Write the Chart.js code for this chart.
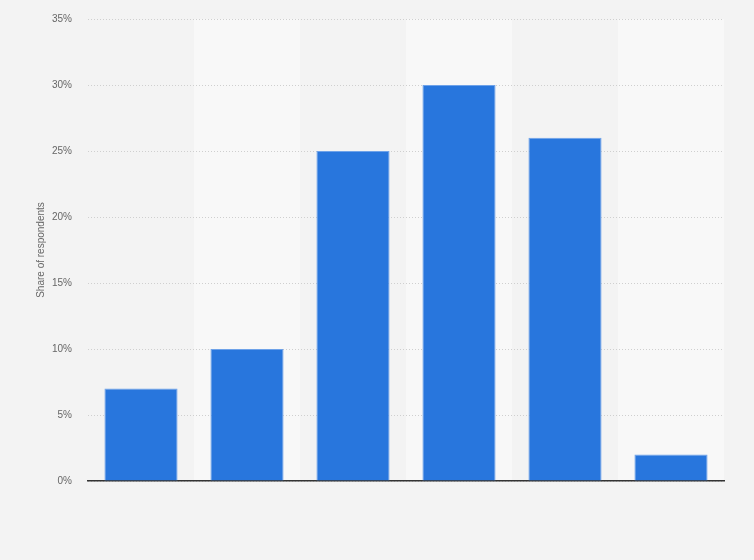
<!DOCTYPE html>
<html>
<head>
<meta charset="utf-8">
<script src="https://cdn.jsdelivr.net/npm/chart.js@4"></script>
<style>
  html, body { margin: 0; padding: 0; background: #f3f3f3; }
  #wrap { width: 754px; height: 560px; }
</style>
</head>
<body>
<div id="wrap"><canvas id="chart"></canvas></div>
<script>
// Chart data
var categories = ["A", "B", "C", "D", "E", "F"];
var shares = [7, 10, 25, 30, 26, 2];
var yTicks = [0, 5, 10, 15, 20, 25, 30, 35];

// Light bands behind every second column, drawn before the grid
var bandPlugin = {
    id: "bands",
    beforeDraw: function (chart) {
        var ctx = chart.ctx;
        var x = chart.scales.x;
        var area = chart.chartArea;
        var w = (area.right - area.left) / categories.length;
        ctx.save();
        ctx.fillStyle = "#f8f8f8";
        for (var i = 1; i < categories.length; i += 2) {
            var c = x.getPixelForValue(i);
            ctx.fillRect(c - w / 2, area.top, w, area.bottom - area.top);
        }
        ctx.restore();
    },
};

var ctx = document.getElementById("chart").getContext("2d");
new Chart(ctx, {
    type: "bar",
    data: {
        labels: categories,
        datasets: [
            {
                data: shares,
                backgroundColor: "#2876dd",
                borderColor: "#6ea2e9",
                borderWidth: 1,
                categoryPercentage: 1,
                barPercentage: 0.69,
            },
        ],
    },
    options: {
        responsive: true,
        maintainAspectRatio: false,
        animation: false,
        layout: { padding: { top: 19, right: 30, bottom: 79, left: 0 } },
        plugins: {
            legend: { display: false },
            tooltip: { enabled: false },
        },
        scales: {
            x: {
                grid: { display: false },
                ticks: { display: false },
                border: { display: true, color: "#333333", width: 1.5 },
                afterFit: function (scale) { scale.height = 0; },
            },
            y: {
                min: 0,
                max: 35,
                afterBuildTicks: function (scale) {
                    scale.ticks = yTicks.map(function (v) { return { value: v }; });
                },
                afterFit: function (scale) {
                    scale.width = 88;
                    scale.paddingTop = 0;
                    scale.paddingBottom = 0;
                },
                border: { display: false, dash: [1, 2] },
                grid: { color: "#cfcfcf", drawTicks: false, lineWidth: 1 },
                ticks: {
                    padding: 16,
                    color: "#666666",
                    font: { family: "'Liberation Sans', Arial", size: 10 },
                    callback: function (v) { return v + "%"; },
                },
                title: {
                    display: true,
                    text: "Share of respondents",
                    color: "#666666",
                    font: { family: "'Liberation Sans', Arial", size: 10 },
                    padding: { top: 35, bottom: 0 },
                },
            },
        },
    },
    plugins: [bandPlugin],
});
</script>
</body>
</html>
